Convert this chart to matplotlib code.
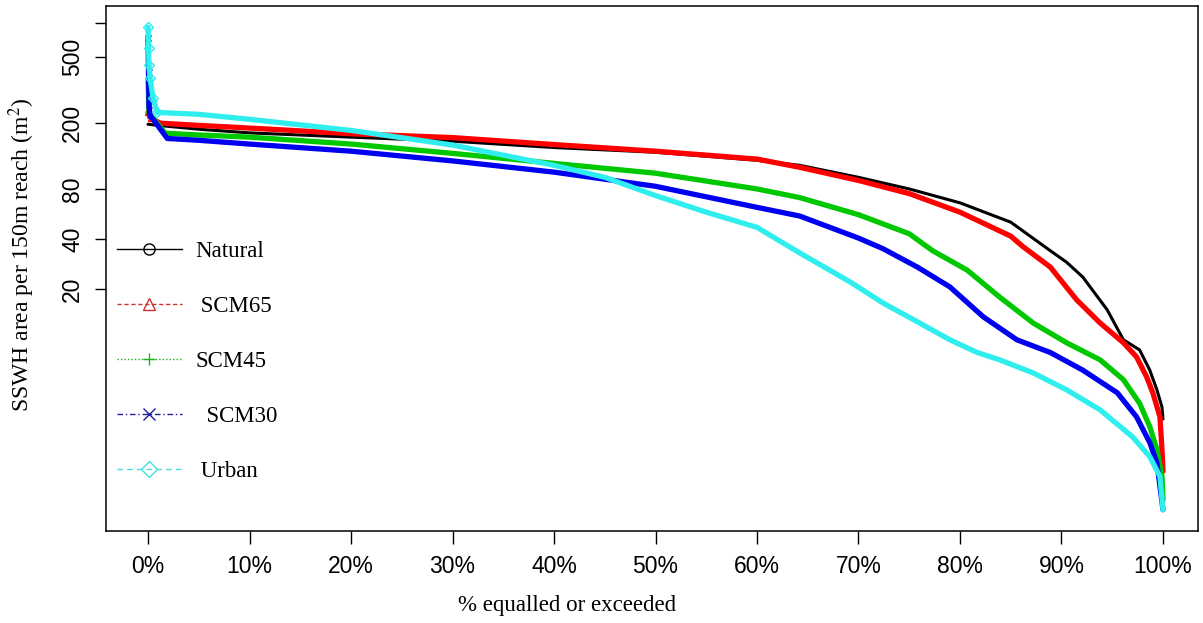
import numpy as np
import matplotlib
matplotlib.use("Agg")
import matplotlib.pyplot as plt
from matplotlib.lines import Line2D

plt.rcParams["mathtext.fontset"] = "stix"

# exceedance (%) and SSWH area (m2)
nat_x = [0, 1, 5, 10, 20, 30, 40, 50, 60, 64.2, 70, 75, 80, 85, 88.9, 90.5,
         92.1, 94.5, 96.1, 97.7, 98.7, 99.4, 99.9, 100]
nat_y = [196, 193, 183, 174, 164, 155, 142, 133, 119, 111, 94, 80, 66, 50.5,
         34, 29, 23.6, 15, 9.9, 8.6, 6.5, 4.95, 3.9, 3.3]

s65_x = [0, 0.3, 1.2, 5, 10, 20, 30, 40, 50, 60, 64.2, 70, 75, 80, 85, 86.2,
         88.9, 91.5, 93.8, 96.1, 97.4, 98.4, 99.0, 99.7, 99.9, 100]
s65_y = [231, 213, 199, 193, 186, 172, 163, 148, 135, 121, 108, 90, 75, 58,
         41.6, 36, 27.1, 17.2, 12.5, 9.5, 7.8, 5.9, 4.75, 3.4, 2.16, 1.6]

s45_x = [0, 0.1, 1.7, 5, 10, 20, 30, 40, 50, 60, 64.2, 70, 75, 77.3, 80.7,
         83.9, 87.2, 90.5, 93.8, 96.1, 97.7, 98.7, 99.4, 99.9, 100]
s45_y = [370, 228, 173, 169, 164, 149, 131, 114, 99.5, 80, 71, 56, 43, 34, 26,
         17.9, 12.5, 9.5, 7.5, 5.7, 4.1, 2.97, 2.16, 1.49, 1.08]

s30_x = [0, 0.05, 0.1, 0.2, 1.9, 5, 10, 20, 30, 40, 50, 60, 64.2, 70, 72.4,
         75.8, 79, 82.3, 85.6, 88.9, 92.1, 95.5, 97.4, 98.7, 99.4, 100]
s30_y = [652, 402, 255, 222, 161, 157, 149, 135, 118, 101, 83, 62, 55, 40.5,
         35, 27.1, 20.6, 13.6, 9.9, 8.3, 6.5, 4.75, 3.4, 2.38, 1.8, 0.94]

urb_x = [0, 0.05, 0.1, 0.2, 0.5, 0.9, 5, 10, 20, 30, 40, 45, 50, 55, 60, 64.2,
         69.2, 72.4, 75.8, 79, 81.7, 83.9, 87.2, 90.5, 93.8, 97, 98.7, 99.7,
         100]
urb_y = [750, 560, 443, 370, 281, 231, 225, 210, 180, 147, 111, 94, 73, 58,
         47, 33, 22, 16.5, 12.7, 9.9, 8.3, 7.5, 6.26, 4.95, 3.75, 2.58, 1.96,
         1.49, 0.94]

labels = ["Natural", " SCM65", "SCM45", "  SCM30", " Urban"]
y_ticks = [20, 40, 80, 200, 500, 800]
y_ticklabels = ["20", "40", "80", "200", "500", ""]
x_ticks = list(range(0, 101, 10))

series = [
    (nat_x, nat_y, "black", 2.2, "o", 0),
    (s65_x, s65_y, "#ff0000", 3.8, "^", 2),
    (s45_x, s45_y, "#00c800", 3.8, "+", 2),
    (s30_x, s30_y, "#0000f0", 3.8, "x", 4),
    (urb_x, urb_y, "#30eeee", 3.8, "D", 6),
]
leg_style = [
    ("black", "-", "o"),
    ("#cc3030", (0, (3, 2)), "^"),
    ("#22b022", (0, (1, 1.5)), "+"),
    ("#20209a", (0, (4, 2, 1, 2)), "x"),
    ("#44dddd", (0, (4, 3)), "D"),
]

fig = plt.figure(figsize=(12.03, 6.23), dpi=100)
ax = fig.add_axes([106 / 1203, 1 - 531 / 623, 1092 / 1203, 525 / 623])

for xs, ys, col, lw, mk, nmk in series:
    ax.plot(xs, ys, color=col, lw=lw, solid_joinstyle="round",
            solid_capstyle="round")
    if nmk:
        ax.plot(xs[:nmk], ys[:nmk], ls="none", marker=mk, ms=5, mfc="none",
                mec=col, mew=1)

ax.set_yscale("log")
ax.set_xlim(-4.14, 103.45)
ax.set_ylim(0.70, 1009)
ax.set_yticks(y_ticks)
ax.set_yticklabels(y_ticklabels, rotation=90, va="center",
                   fontfamily="Liberation Sans", fontsize=16.5)
ax.yaxis.set_minor_locator(matplotlib.ticker.NullLocator())
ax.set_xticks(x_ticks)
ax.set_xticklabels(["%d%%" % t for t in x_ticks],
                   fontfamily="Liberation Sans", fontsize=16.5)
ax.tick_params(axis="x", length=9.5, width=1, pad=7.6)
ax.tick_params(axis="y", length=8, width=1, pad=7.8)
for sp in ax.spines.values():
    sp.set_linewidth(1.1)

fig.text(567 / 1203, 1 - 606 / 623, "% equalled or exceeded",
         ha="center", va="center", fontfamily="Liberation Serif",
         fontsize=16.5)
fig.text(22 / 1203, 1 - 255 / 623, "SSWH area per 150m reach (m$^{2}$)",
         ha="center", va="center", rotation=90,
         fontfamily="Liberation Serif", fontsize=17)

handles = [Line2D([], [], color=c, ls=ls, lw=1, marker=m, ms=8, mfc="none",
                  mec=c, mew=1) for c, ls, m in leg_style]
ax.legend(handles, labels, loc="upper left", bbox_to_anchor=(0.010, 0.552),
          frameon=False, borderpad=0, borderaxespad=0, handlelength=2.84,
          handletextpad=0.57, labelspacing=1.48,
          prop={"family": "Liberation Serif", "size": 16.5})

fig.savefig("out.png", dpi=100)
